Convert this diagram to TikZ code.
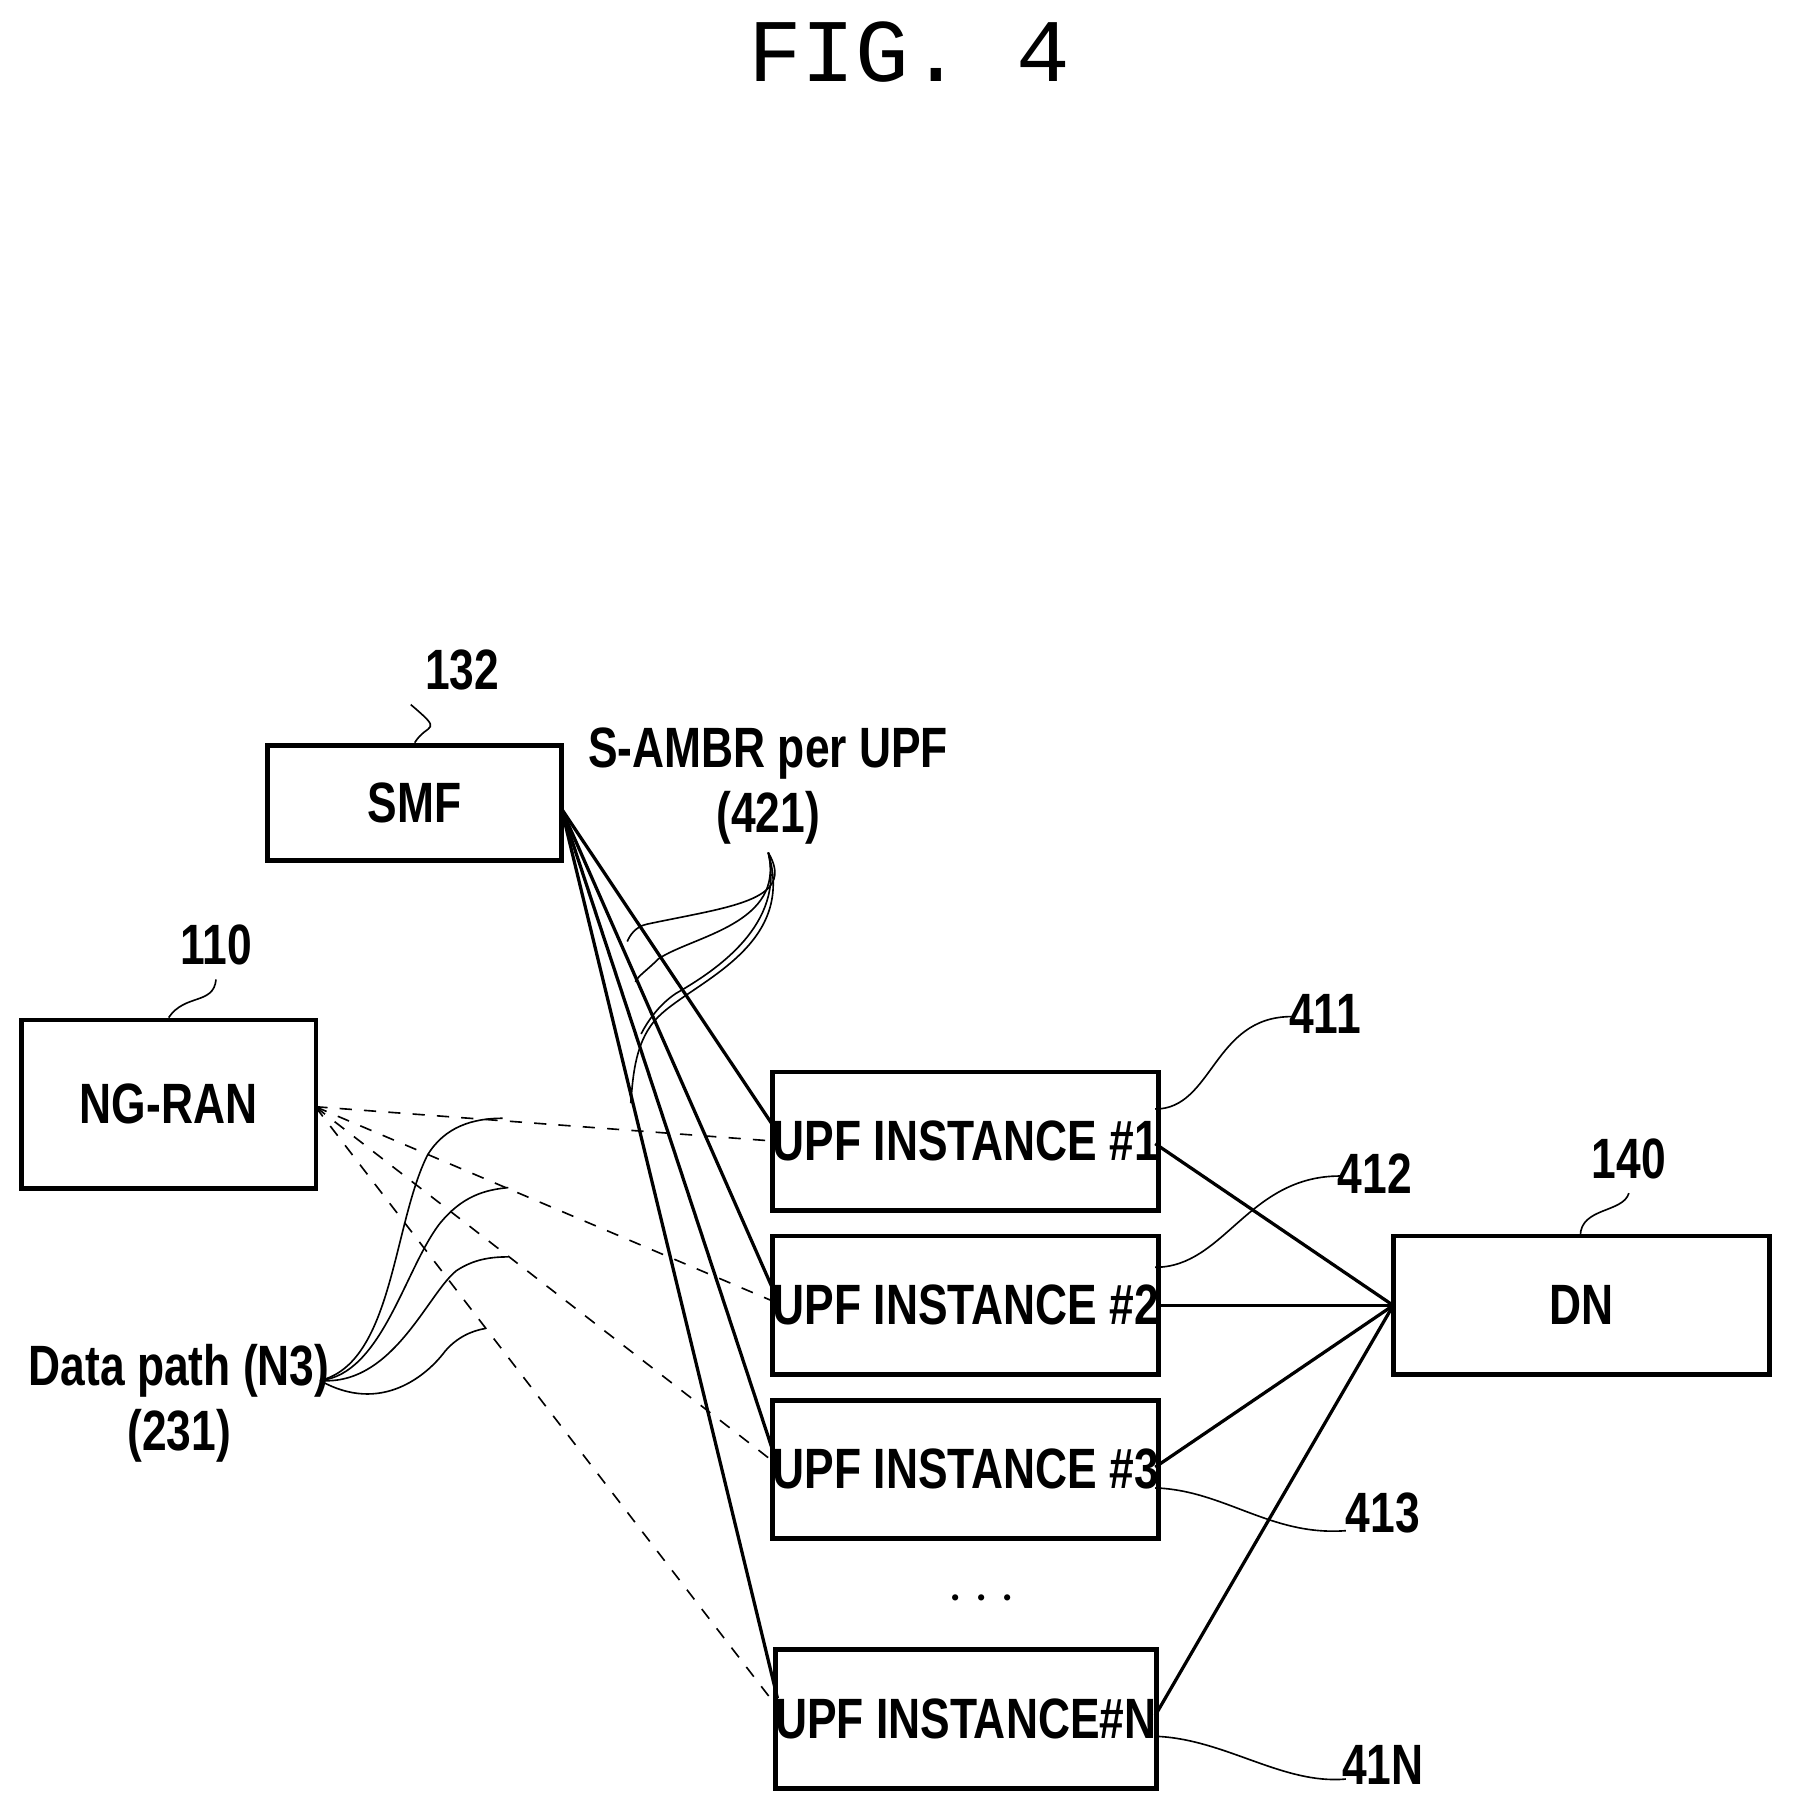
\documentclass[tikz,border=0pt]{standalone}
\usepackage{fontspec}
\setmainfont{Liberation Sans}[FakeStretch=0.78]
\newfontfamily\titlefont{Liberation Mono}
\usetikzlibrary{positioning}
\begin{document}
\begin{tikzpicture}[x=0.01cm,y=-0.01cm,
    box/.style={draw,very thick,minimum width=3.27cm,minimum height=1.2cm,inner sep=0pt,font=\fontsize{14}{16}\selectfont\bfseries},
    lbl/.style={font=\fontsize{14}{16}\selectfont\bfseries,align=center},
    lead/.style={thin}]
    \useasboundingbox (0,0) rectangle (1556,1572);
    \node[font=\titlefont\fontsize{22}{24}\selectfont] (title) at (787,45) {FIG. 4};

    \node[box,minimum width=2.54cm,minimum height=1cm] (smf) at (359,695) {SMF};
    \node[box,minimum width=2.55cm,minimum height=1.46cm] (ran) at (146,956) {NG-RAN};
    \node[box] (upf1) at (836,988) {UPF INSTANCE \#1};
    \node[box] (upf2) at (836,1130) {UPF INSTANCE \#2};
    \node[box] (upf3) at (836,1272) {UPF INSTANCE \#3};
    \node[box] (upfn) at (836,1488) {UPF INSTANCE\#N};
    \node[box,minimum width=3.26cm] (dn) at (1369,1130) {DN};
    \node[lbl] (dots) at (850,1385) {$\cdots$};

%   reference labels
    \node[lbl] (n132) at (400,580) {132};
    \node[lbl] (n110) at (187,818) {110};
    \node[lbl] (n411) at (1147,878) {411};
    \node[lbl] (n412) at (1190,1016) {412};
    \node[lbl] (n140) at (1410,1003) {140};
    \node[lbl] (n413) at (1197,1310) {413};
    \node[lbl] (n41n) at (1197,1528) {41N};
    \node[lbl] (ambr) at (665,680) {S-AMBR per UPF\\(421)};
    \node[lbl] (path) at (155,1215) {Data path (N3)\\(231)};

    \coordinate (smfo) at (486,700);
    \coordinate (rano) at (273,958);
    \coordinate (dni) at (1206,1130);

%   control lines
    \draw[thick] (smfo) -- (673,980);
    \draw[thick] (smfo) -- (673,1125);
    \draw[thick] (smfo) -- (673,1268);
    \draw[thick] (smfo) -- (673,1470);
%   data path
    \draw[dashed] (rano) -- (673,988);
    \draw[dashed] (rano) -- (673,1128);
    \draw[dashed] (rano) -- (673,1268);
    \draw[dashed] (rano) -- (673,1478);
%   DN side
    \draw[thick] (dni) -- (1000,990);
    \draw[thick] (dni) -- (upf2.east);
    \draw[thick] (dni) -- (1000,1270);
    \draw[thick] (dni) -- (1000,1485);

%   leaders
    \draw[lead] (smf.north) ++(0,0) .. controls (370,625) and (385,635) .. (n132.south west);
    \draw[lead] (ran.north) ++(0,0) .. controls (160,860) and (185,870) .. (n110.south);
    \draw[lead] (1000,960) .. controls (1050,960) and (1050,880) .. (1118,880);
    \draw[lead] (1000,1097) .. controls (1060,1097) and (1080,1018) .. (1160,1018);
    \draw[lead] (1000,1288) .. controls (1060,1290) and (1100,1330) .. (1165,1325);
    \draw[lead] (1000,1503) .. controls (1060,1505) and (1110,1545) .. (1165,1540);
    \draw[lead] (1368,1070) .. controls (1368,1045) and (1405,1050) .. (n140.south);

    \coordinate (ambrt) at (665,738);
    \draw[lead] (ambrt) .. controls (690,780) and (630,785) .. (560,800) .. controls (550,802) and (545,810) .. (543,815);
    \draw[lead] (ambrt) .. controls (680,800) and (600,810) .. (570,830) .. controls (560,840) and (552,845) .. (550,850);
    \draw[lead] (ambrt) .. controls (680,800) and (620,840) .. (585,860) .. controls (570,870) and (560,885) .. (555,895);
    \draw[lead] (ambrt) .. controls (690,820) and (600,850) .. (570,880) .. controls (550,900) and (548,930) .. (546,955);

    \coordinate (patht) at (277,1195);
    \draw[lead] (patht) .. controls (340,1180) and (340,1060) .. (370,1000) .. controls (385,975) and (410,968) .. (435,968);
    \draw[lead] (patht) .. controls (330,1190) and (350,1100) .. (380,1060) .. controls (400,1035) and (420,1030) .. (440,1028);
    \draw[lead] (patht) .. controls (340,1200) and (370,1120) .. (395,1100) .. controls (410,1090) and (425,1088) .. (440,1088);
    \draw[lead] (patht) .. controls (330,1225) and (370,1190) .. (385,1170) .. controls (395,1158) and (408,1152) .. (420,1150);
\end{tikzpicture}
\end{document}
